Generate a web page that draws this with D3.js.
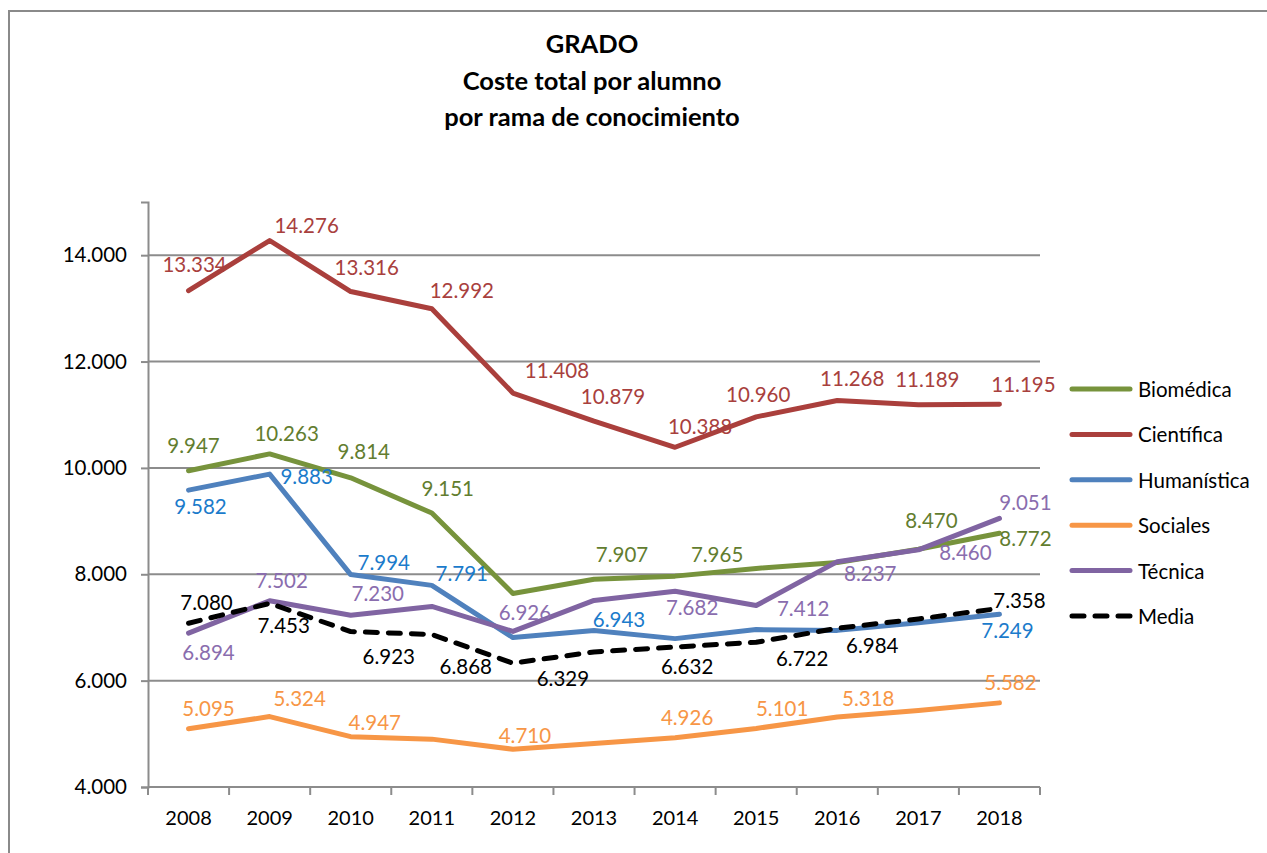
<!DOCTYPE html>
<html>
<head>
<meta charset="utf-8">
<script src="https://cdn.jsdelivr.net/npm/d3@7"></script>
<style>
  body { margin: 0; background: #fff; }
  text { font-family: Lato, "Open Sans", sans-serif; }
</style>
</head>
<body>
<script>
const width = 1267;
const height = 853;

// categories
const years = ["2008", "2009", "2010", "2011", "2012", "2013", "2014", "2015", "2016", "2017", "2018"];

// series values (coste por alumno)
const biomedica   = [9947, 10263, 9814, 9151, 7640, 7907, 7965, 8110, 8220, 8470, 8772];
const cientifica  = [13334, 14276, 13316, 12992, 11408, 10879, 10388, 10960, 11268, 11189, 11195];
const humanistica = [9582, 9883, 7994, 7791, 6810, 6943, 6790, 6960, 6945, 7090, 7249];
const sociales    = [5095, 5324, 4947, 4900, 4710, 4820, 4926, 5101, 5318, 5440, 5582];
const tecnica     = [6894, 7502, 7230, 7396, 6926, 7508, 7682, 7412, 8237, 8460, 9051];
const media       = [7080, 7453, 6923, 6868, 6329, 6540, 6632, 6722, 6984, 7160, 7358];

const seriesNames = ["Biomédica", "Científica", "Humanística", "Sociales", "Técnica", "Media"];
const yTicks = [4000, 6000, 8000, 10000, 12000, 14000];

// label placement, by hand (dx, dy from the point); null = no label
const labelOffsets = {
  "Biomédica":   [[5,-26],[17,-21],[13,-27],[16,-25],null,[28,-25],[42,-22],null,null,[13,-29],[26,5]],
  "Científica":  [[6,-27],[37,-16],[16,-25],[30,-19],[44,-23],[19,-25],[25,-21],[2,-23],[15,-22],[9,-26],[24,-20]],
  "Humanística": [[12,16],[37,2],[33,-13],[30,-12],null,[25,-11],null,null,null,null,[8,16]],
  "Sociales":    [[20,-21],[30,-19],[24,-15],null,[12,-14],null,[12,-21],[26,-20],[31,-19],null,[11,-21]],
  "Técnica":     [[20,19],[12,-21],[27,-22],null,[12,-19],null,[17,16],[47,2],[33,11],[47,2],[26,-16]],
  "Media":       [[18,-21],[14,22],[38,24],[34,32],[50,15],null,[12,19],[46,16],[35,17],null,[20,-8]]
};

const lineColors  = ["#77933C", "#AA3F3C", "#4F81BD", "#F79646", "#8064A2", "#000000"];
const labelColors = ["#627D2F", "#A8403D", "#1B7BCB", "#F79646", "#8A6DAE", "#000000"];

const values = [biomedica, cientifica, humanistica, sociales, tecnica, media];

const loc = d3.formatLocale({ decimal: ",", thousands: ".", grouping: [3], currency: ["", "€"] });
const fmt = loc.format(",.0f");

const margin = { left: 148, right: 1040, top: 202, bottom: 787 };

const svg = d3.select("body").append("svg")
  .attr("width", width)
  .attr("height", height);

// chart border
svg.append("rect")
  .attr("x", 9).attr("y", 11)
  .attr("width", 1300).attr("height", 900)
  .attr("fill", "none")
  .attr("stroke", "#8a8a8a")
  .attr("stroke-width", 2);

// title
const titleLines = ["GRADO", "Coste total por alumno", "por rama de conocimiento"];
svg.append("g").selectAll("text")
  .data(titleLines)
  .enter().append("text")
  .attr("x", 592)
  .attr("y", (d, i) => 43 + i * 36.5)
  .attr("text-anchor", "middle")
  .attr("dominant-baseline", "central")
  .attr("font-weight", "bold")
  .attr("font-size", 25.5)
  .attr("fill", "#000")
  .text(d => d);

const x = d3.scaleBand()
  .domain(years)
  .range([margin.left, margin.right]);

const y = d3.scaleLinear()
  .domain([4000, 15000])
  .range([margin.bottom, margin.top]);

const gridColor = "#8c8c8c";

// gridlines
svg.append("g").selectAll("line")
  .data(yTicks.slice(1))
  .enter().append("line")
  .attr("x1", margin.left).attr("x2", margin.right)
  .attr("y1", d => y(d)).attr("y2", d => y(d))
  .attr("stroke", gridColor)
  .attr("stroke-width", 2);

// y axis
const yAxis = svg.append("g")
  .attr("transform", `translate(${margin.left},0)`)
  .call(d3.axisLeft(y).tickValues(yTicks).tickFormat(fmt).tickSize(7).tickPadding(14));
yAxis.select(".domain").attr("stroke", gridColor).attr("stroke-width", 2);
yAxis.selectAll(".tick line").attr("stroke", gridColor).attr("stroke-width", 2);
yAxis.selectAll(".tick text")
  .attr("font-family", "Lato, sans-serif")
  .attr("font-size", 20.5)
  .attr("fill", "#000");

// x axis: labels from the band scale, ticks on band edges
const xAxis = svg.append("g")
  .attr("transform", `translate(0,${margin.bottom})`)
  .call(d3.axisBottom(x).tickSize(0).tickPadding(24));
xAxis.select(".domain").remove();
xAxis.selectAll(".tick text")
  .attr("font-family", "Lato, sans-serif")
  .attr("font-size", 20)
  .attr("fill", "#000");

svg.append("line")
  .attr("x1", margin.left).attr("x2", margin.right)
  .attr("y1", margin.bottom).attr("y2", margin.bottom)
  .attr("stroke", gridColor).attr("stroke-width", 2);

const edges = years.map(d => x(d)).concat([x(years[years.length - 1]) + x.bandwidth()]);
svg.append("g").selectAll("line")
  .data(edges)
  .enter().append("line")
  .attr("x1", d => d).attr("x2", d => d)
  .attr("y1", margin.bottom).attr("y2", margin.bottom + 8)
  .attr("stroke", gridColor).attr("stroke-width", 2);

// lines
const line = d3.line()
  .x((d, i) => x(years[i]) + x.bandwidth() / 2)
  .y(d => y(d));

values.forEach((vals, s) => {
  const isMedia = seriesNames[s] === "Media";
  svg.append("path")
    .datum(vals)
    .attr("d", line)
    .attr("fill", "none")
    .attr("stroke", lineColors[s])
    .attr("stroke-width", 5)
    .attr("stroke-linejoin", "round")
    .attr("stroke-linecap", "round")
    .attr("stroke-dasharray", isMedia ? "12,11" : null);
});

// data labels
values.forEach((vals, s) => {
  const offs = labelOffsets[seriesNames[s]];
  svg.append("g").selectAll("text")
    .data(vals.map((v, i) => ({ v, i, o: offs[i] })).filter(d => d.o))
    .enter().append("text")
    .attr("x", d => x(years[d.i]) + x.bandwidth() / 2 + d.o[0])
    .attr("y", d => y(d.v) + d.o[1])
    .attr("text-anchor", "middle")
    .attr("dominant-baseline", "central")
    .attr("font-size", 20.5)
    .attr("fill", labelColors[s])
    .text(d => fmt(d.v));
});

// legend
const legend = svg.append("g").attr("transform", "translate(1070,389)");
const rows = legend.selectAll("g")
  .data(seriesNames)
  .enter().append("g")
  .attr("transform", (d, i) => `translate(0,${i * 45.4})`);
rows.append("line")
  .attr("x1", 2).attr("x2", 60)
  .attr("y1", 0).attr("y2", 0)
  .attr("stroke", (d, i) => lineColors[i])
  .attr("stroke-width", 5)
  .attr("stroke-linecap", "round")
  .attr("stroke-dasharray", d => d === "Media" ? "12,11" : null);
rows.append("text")
  .attr("x", 68)
  .attr("y", 0)
  .attr("dominant-baseline", "central")
  .attr("font-size", 20.5)
  .attr("fill", "#000")
  .text(d => d);
</script>
</body>
</html>
